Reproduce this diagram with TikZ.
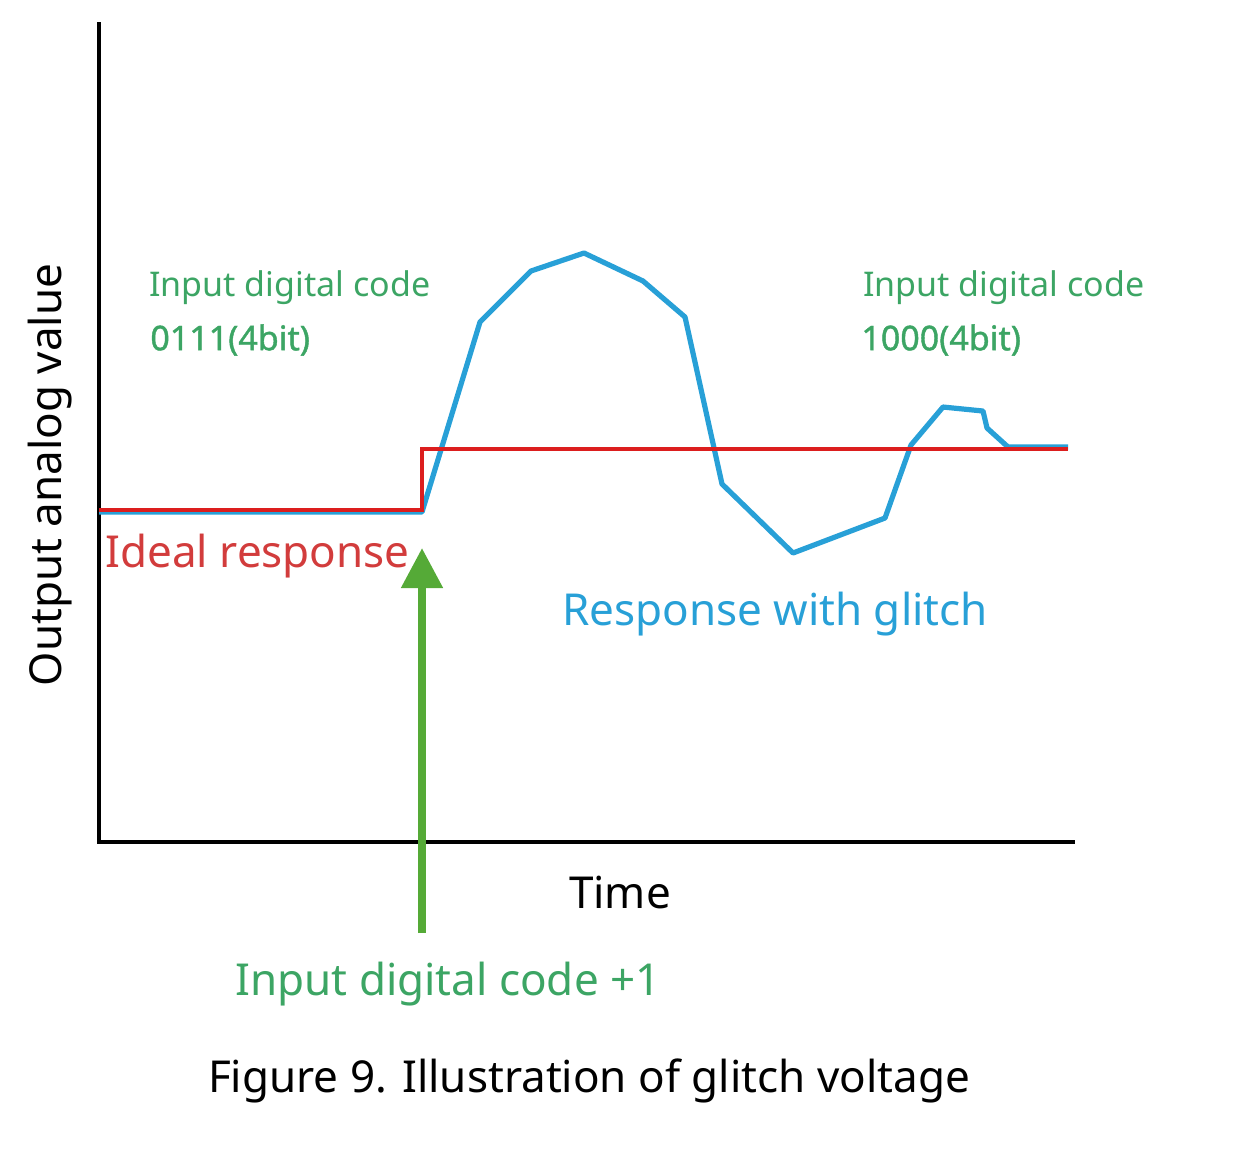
\documentclass[tikz,border=0pt]{standalone}
\usepackage{fontspec}
\setmainfont{Noto Sans}
\newfontfamily\semib{Noto Sans}[FakeBold=1.2]
\usetikzlibrary{arrows.meta}
\definecolor{gtext}{RGB}{60,165,100}
\definecolor{bline}{RGB}{40,160,215}
\definecolor{rline}{RGB}{220,30,30}
\definecolor{rtext}{RGB}{210,60,60}
\definecolor{garrow}{RGB}{85,170,55}
\tikzset{lbl/.style={inner sep=0pt,font=\fontsize{17}{20}\selectfont,text=gtext}}
\begin{document}
\begin{tikzpicture}[x=0.5pt,y=-0.5pt]
\useasboundingbox (0,0) rectangle (1240,1164);
\coordinate (top) at (99,22); \coordinate (org) at (99,842); \coordinate (xend) at (1075,842);
\draw[line width=2pt] (top) -- (org) -- (xend);
\draw[bline,line width=2.6pt,line join=round] (99,512)--(422,512)--(480,322)--(531,271)--(584,253)--(643,281)--(685,317)--(722,484)--(793,553)--(885,518)--(911,445)--(943,407)--(983,411)--(987,428)--(1008,447)--(1068,447);
\draw[rline,line width=1.8pt] (99,510)--(422,510)--(422,449)--(1068,449);
\coordinate (as) at (422,933); \coordinate (at) at (422,548);
\draw[garrow,line width=4pt,-{Triangle[length=20pt,width=20pt]}] (as) -- (at);
\node[lbl,anchor=west] (l1) at (149,288) {Input digital code};
\node[lbl,anchor=west] (l2) at (150,340) {\semib 0111(4bit)};
\node[lbl,anchor=west] (r1) at (863,288) {Input digital code};
\node[lbl,anchor=west] (r2) at (861,340) {\semib 1000(4bit)};
\node[inner sep=0pt,anchor=west,text=rtext,font=\fontsize{22}{26}\selectfont] (ideal) at (105,556) {Ideal response};
\node[inner sep=0pt,text=bline,font=\fontsize{22}{26}\selectfont] (glitch) at (775,614) {Response with glitch};
\node[inner sep=0pt,font=\fontsize{22}{26}\selectfont] (time) at (620,892) {Time};
\node[inner sep=0pt,text=gtext,font=\fontsize{22}{26}\selectfont] (plus) at (448,984) {Input digital code +1};
\node[inner sep=0pt,font=\fontsize{22}{26}\selectfont] (cap) at (589,1081) {Figure 9. Illustration of glitch voltage};
\node[inner sep=0pt,rotate=90,font=\fontsize{22}{26}\selectfont] (ylab) at (50,475) {Output analog value};
\end{tikzpicture}
\end{document}
